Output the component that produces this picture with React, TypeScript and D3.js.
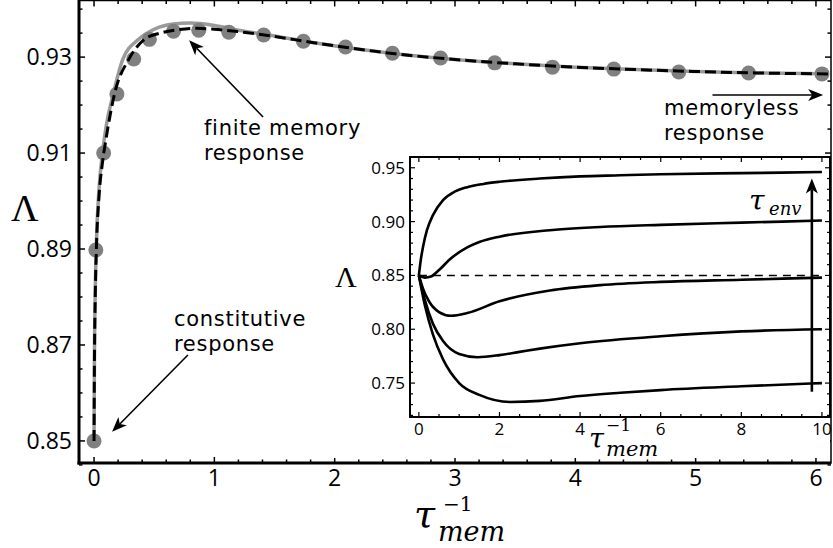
import React from "react";
import * as d3 from "d3";

// main plot: fitted curves and simulated points
const dashX = [0, 0.003, 0.01, 0.02, 0.04, 0.07, 0.1, 0.17, 0.29, 0.42, 0.55, 0.7, 0.85, 1.0, 1.2, 1.5, 1.8, 2.1, 2.5, 3.0, 3.5, 4.0, 4.5, 5.0, 5.5, 6.1];
const dashY = [0.85, 0.865, 0.88, 0.8905, 0.9005, 0.908, 0.913, 0.9223, 0.9296, 0.9337, 0.935, 0.9357, 0.936, 0.9358, 0.9353, 0.9343, 0.9331, 0.932, 0.9307, 0.9295, 0.9286, 0.9279, 0.9274, 0.927, 0.9267, 0.9265];

const grayX = [0, 0.003, 0.01, 0.02, 0.04, 0.07, 0.1, 0.16, 0.24, 0.37, 0.5, 0.66, 0.8, 1.0, 1.2, 1.5, 1.8, 2.1, 2.5, 3.0, 3.5, 4.0, 4.5, 5.0, 5.5, 6.1];
const grayY = [0.85, 0.866, 0.881, 0.8915, 0.902, 0.91, 0.9155, 0.9223, 0.9296, 0.9337, 0.9358, 0.9369, 0.9371, 0.9366, 0.9356, 0.9344, 0.9331, 0.932, 0.9307, 0.9295, 0.9286, 0.9279, 0.9274, 0.927, 0.9267, 0.9265];

const pointX = [0, 0.015, 0.08, 0.19, 0.33, 0.46, 0.66, 0.87, 1.12, 1.41, 1.74, 2.09, 2.48, 2.88, 3.33, 3.81, 4.32, 4.86, 5.44, 6.05];
const pointY = [0.85, 0.8898, 0.91, 0.9223, 0.9296, 0.9337, 0.9354, 0.9356, 0.9352, 0.9346, 0.9333, 0.9321, 0.9308, 0.9298, 0.9288, 0.9279, 0.9275, 0.9269, 0.9267, 0.9265];

const mainXTicks = [0, 1, 2, 3, 4, 5, 6];
const mainYTicks = [0.85, 0.87, 0.89, 0.91, 0.93];

// inset: one curve per tau_env
const insetCurves = [
  { x: [0, 0.05, 0.1, 0.2, 0.35, 0.6, 0.9, 1.2, 1.6, 2, 3, 4, 5, 6, 8, 10], y: [0.85, 0.865, 0.876, 0.892, 0.906, 0.92, 0.928, 0.932, 0.935, 0.937, 0.94, 0.942, 0.943, 0.944, 0.945, 0.946] },
  { x: [0, 0.15, 0.3, 0.5, 0.77, 1.2, 1.5, 2, 3.25, 4.5, 6, 8, 10], y: [0.85, 0.848, 0.849, 0.855, 0.865, 0.876, 0.881, 0.886, 0.892, 0.895, 0.897, 0.899, 0.901] },
  { x: [0, 0.1, 0.25, 0.5, 0.8, 1.2, 2, 3.25, 4.5, 6, 8, 10], y: [0.85, 0.838, 0.826, 0.816, 0.8125, 0.815, 0.826, 0.836, 0.841, 0.844, 0.846, 0.848] },
  { x: [0, 0.15, 0.35, 0.6, 1.0, 1.45, 2, 2.5, 3, 4, 6, 8, 10], y: [0.85, 0.827, 0.805, 0.789, 0.777, 0.774, 0.776, 0.779, 0.782, 0.787, 0.7935, 0.798, 0.8] },
  { x: [0, 0.15, 0.35, 0.6, 1.0, 1.5, 2.26, 3, 4, 5, 6, 8, 10], y: [0.85, 0.822, 0.795, 0.772, 0.75, 0.739, 0.7325, 0.7335, 0.738, 0.741, 0.7435, 0.747, 0.75] },
];
const insetXTicks = [0, 2, 4, 6, 8, 10];
const insetYTicks = [0.75, 0.8, 0.85, 0.9, 0.95];
const insetRef = 0.85;

const sans = "'Open Sans', sans-serif";
const noteFont = "'DejaVu Sans', sans-serif";
const serif = "'DejaVu Serif', serif";

const range = (a: number, b: number, s: number) => {
  const out: number[] = [];
  for (let i = 0; a + i * s <= b + 1e-9; i++) out.push(+(a + i * s).toFixed(4));
  return out;
};

const Arrow = ({ x1, y1, x2, y2, w = 1.6 }: { x1: number; y1: number; x2: number; y2: number; w?: number }) => {
  const a = Math.atan2(y2 - y1, x2 - x1);
  const L = 15, W = 6;
  const bx = x2 - L * Math.cos(a), by = y2 - L * Math.sin(a);
  const px = -Math.sin(a) * W, py = Math.cos(a) * W;
  const nx = x2 - (L - 4) * Math.cos(a), ny = y2 - (L - 4) * Math.sin(a);
  return (
    <g>
      <line x1={x1} y1={y1} x2={nx} y2={ny} stroke="black" strokeWidth={w} />
      <path d={`M${x2},${y2}L${bx + px},${by + py}L${nx},${ny}L${bx - px},${by - py}Z`} fill="black" />
    </g>
  );
};

// two-line note
const Note = ({ x, y, lines, gap }: { x: number; y: number; lines: string[]; gap: number }) => (
  <g fontFamily={noteFont} fontSize={21} letterSpacing={0.7}>
    {lines.map((s, i) => (
      <text key={i} x={x} y={y + i * gap}>{s}</text>
    ))}
  </g>
);

const App = () => {
  // main plot geometry
  const L = 79, R = 831, T = 0.5, B = 463;
  const x = d3.scaleLinear().domain([-0.125, 6.125]).range([L, R]);
  const y = d3.scaleLinear().domain([0.8454, 0.9419]).range([B, 0]);

  // inset geometry
  const iL = 410, iR = 830, iT = 157, iB = 417;
  const ix = d3.scaleLinear().domain([-0.22, 10.2]).range([iL, iR]);
  const iy = d3.scaleLinear().domain([0.7185, 0.96]).range([iB, iT]);

  const line = d3.line<[number, number]>().curve(d3.curveMonotoneX);
  const mainPath = (xs: number[], ys: number[]) => line(xs.map((v, i) => [x(v), y(ys[i])]));
  const insetPath = (xs: number[], ys: number[]) => line(xs.map((v, i) => [ix(v), iy(ys[i])]));

  const xMinor = range(0, 6, 0.2);
  const yMinor = range(0.845, 0.94, 0.005);
  const ixMinor = range(0, 10, 0.5);
  const iyMinor = range(0.72, 0.96, 0.01);

  return (
    <svg width={833} height={548} style={{ position: "absolute", left: 0, top: 0, background: "white" }}>
      {/* main curves */}
      <path d={mainPath(grayX, grayY) || ""} fill="none" stroke="#9a9a9a" strokeWidth={3.5} />
      {pointX.map((v, i) => (
        <circle key={i} cx={x(v)} cy={y(pointY[i])} r={7.5} fill="#808080" />
      ))}
      <path d={mainPath(dashX, dashY) || ""} fill="none" stroke="black" strokeWidth={3} strokeDasharray="11,5" />

      {/* main frame ticks */}
      {xMinor.map((v) => {
        const len = mainXTicks.includes(v) ? 6 : 3.5;
        return (
          <g key={"xt" + v}>
            <line x1={x(v)} x2={x(v)} y1={B} y2={B - len} stroke="black" strokeWidth={1.5} />
            <line x1={x(v)} x2={x(v)} y1={T} y2={T + len} stroke="black" strokeWidth={1.5} />
          </g>
        );
      })}
      {yMinor.map((v) => {
        const len = mainYTicks.some((t) => Math.abs(t - v) < 1e-6) ? 6 : 3.5;
        return (
          <g key={"yt" + v}>
            <line x1={L} x2={L + len} y1={y(v)} y2={y(v)} stroke="black" strokeWidth={1.5} />
            <line x1={R} x2={R - len} y1={y(v)} y2={y(v)} stroke="black" strokeWidth={1.5} />
          </g>
        );
      })}
      <rect x={L} y={T} width={R - L} height={B - T} fill="none" stroke="black" strokeWidth={1.5} />
      <line x1={L} x2={L} y1={0} y2={B + 1.5} stroke="black" strokeWidth={3} />
      <line x1={L - 1.5} x2={R} y1={B} y2={B} stroke="black" strokeWidth={3} />

      {mainXTicks.map((v) => (
        <text key={"xl" + v} x={x(v)} y={486} textAnchor="middle" fontFamily={sans} fontSize={23}>{v}</text>
      ))}
      {mainYTicks.map((v) => (
        <text key={"yl" + v} x={72} y={y(v)} dy="0.35em" textAnchor="end" fontFamily={sans} fontSize={23}>{v.toFixed(2)}</text>
      ))}

      {/* axis labels */}
      <text x={11} y={221} fontFamily="'Liberation Serif', serif" fontSize={38}>Λ</text>
      <text x={414} y={527} fontFamily={serif} fontStyle="italic" fontSize={38}>τ</text>
      <text x={443} y={511} fontFamily={serif} fontSize={20}>−1</text>
      <text x={438} y={541} fontFamily={serif} fontStyle="italic" fontSize={27}>mem</text>

      {/* annotations */}
      <Note x={204} y={135} gap={25} lines={["finite memory", "response"]} />
      <Note x={664} y={115} gap={25} lines={["memoryless", "response"]} />
      <Note x={174} y={326} gap={25} lines={["constitutive", "response"]} />
      <Arrow x1={x(1.405)} y1={y(0.9175)} x2={x(0.79)} y2={y(0.9335)} />
      <Arrow x1={x(0.78)} y1={y(0.8679)} x2={x(0.15)} y2={y(0.8519)} />
      <Arrow x1={x(5.14)} y1={y(0.9221)} x2={x(6.06)} y2={y(0.9221)} />

      {/* inset */}
      <rect x={332} y={iT} width={iR - 332} height={458 - iT} fill="white" />
      <line x1={ix(0)} x2={ix(10)} y1={iy(insetRef)} y2={iy(insetRef)} stroke="black" strokeWidth={1.5} strokeDasharray="8,6" />
      {insetCurves.map((c, i) => (
        <path key={i} d={insetPath(c.x, c.y) || ""} fill="none" stroke="black" strokeWidth={2.6} />
      ))}
      {ixMinor.map((v) => {
        const len = insetXTicks.includes(v) ? 5 : 3;
        return (
          <g key={"ixt" + v}>
            <line x1={ix(v)} x2={ix(v)} y1={iB} y2={iB - len} stroke="black" strokeWidth={1.2} />
            <line x1={ix(v)} x2={ix(v)} y1={iT} y2={iT + len} stroke="black" strokeWidth={1.2} />
          </g>
        );
      })}
      {iyMinor.map((v) => {
        const len = insetYTicks.some((t) => Math.abs(t - v) < 1e-6) ? 5 : 3;
        return (
          <g key={"iyt" + v}>
            <line x1={iL} x2={iL + len} y1={iy(v)} y2={iy(v)} stroke="black" strokeWidth={1.2} />
            <line x1={iR} x2={iR - len} y1={iy(v)} y2={iy(v)} stroke="black" strokeWidth={1.2} />
          </g>
        );
      })}
      <rect x={iL} y={iT} width={iR - iL} height={iB - iT} fill="none" stroke="black" strokeWidth={2} />
      {insetXTicks.map((v) => (
        <text key={"ixl" + v} x={ix(v)} y={435} textAnchor="middle" fontFamily={sans} fontSize={17}>{v}</text>
      ))}
      {insetYTicks.map((v) => (
        <text key={"iyl" + v} x={405} y={iy(v)} dy="0.35em" textAnchor="end" fontFamily={sans} fontSize={17}>{v.toFixed(2)}</text>
      ))}
      <text x={335} y={287} fontFamily="'Liberation Serif', serif" fontSize={30}>Λ</text>
      <text x={589} y={448} fontFamily={serif} fontStyle="italic" fontSize={27}>τ</text>
      <text x={606} y={431} fontFamily={serif} fontSize={17}>−1</text>
      <text x={606} y={456} fontFamily={serif} fontStyle="italic" fontSize={21}>mem</text>

      {/* tau_env arrow */}
      <Arrow x1={ix(9.75)} y1={iy(0.742)} x2={ix(9.75)} y2={iy(0.94)} w={2.6} />
      <text x={749} y={210} fontFamily={serif} fontStyle="italic" fontSize={28}>τ</text>
      <text x={769} y={215} fontFamily={serif} fontStyle="italic" fontSize={18}>env</text>
    </svg>
  );
};

export default App;
